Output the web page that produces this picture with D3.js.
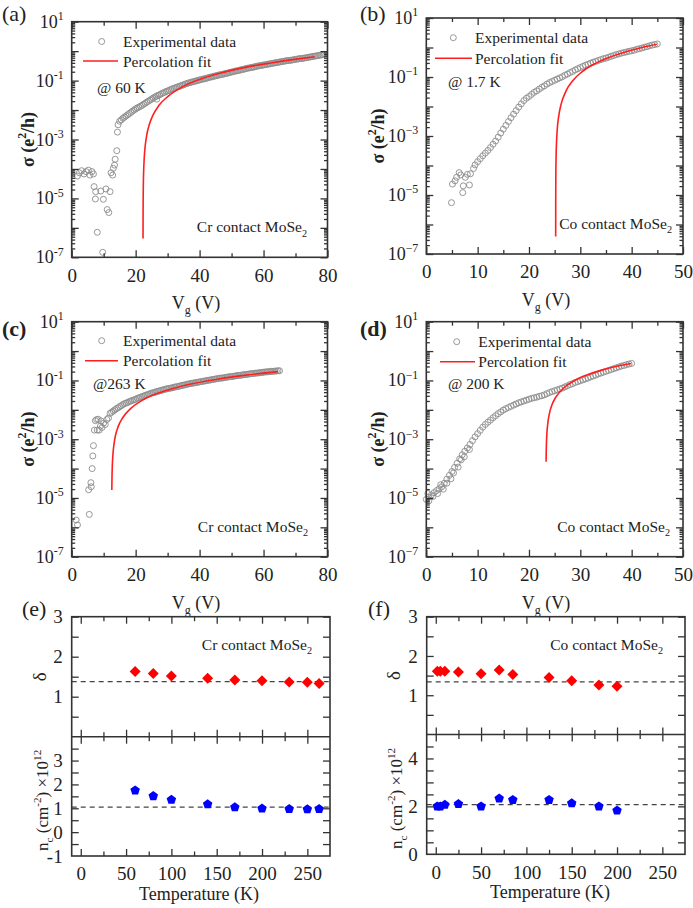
<!DOCTYPE html>
<html><head><meta charset="utf-8">
<script src="https://cdn.jsdelivr.net/npm/d3@7"></script>
<style>
body{margin:0;background:#fff}
svg{display:block;font-family:"Liberation Serif","DejaVu Serif",serif}
text{font-family:"Liberation Serif","DejaVu Serif",serif;fill:#222}
</style>
</head><body>
<svg id="fig" width="693" height="908"></svg>
<script>
// ---------------- DATA (V_g in volts, log10 of sigma in e^2/h) ----------------
const expA = [[1.8,-4.24],[2.4,-4.13],[3.1,-4.06],[3.85,-4.17],[4.5,-4.09],[5.2,-4.04],[5.7,-4.21],[6.35,-4.09],[6.8,-4.17],[7.0,-4.6],[7.5,-4.77],[7.4,-5.02],[8.0,-6.15],[9.1,-4.75],[9.9,-5.03],[9.7,-6.83],[10.7,-4.68],[11.1,-5.38],[11.6,-5.48],[12.0,-4.77],[12.3,-4.13],[12.8,-4.21],[13.0,-3.98],[13.4,-3.87],[13.6,-3.67],[14.1,-3.38],[14.3,-2.75],[26.6,-1.63],
[14.5,-2.50],[15,-2.38],[15.5,-2.33],[16,-2.28],[16.5,-2.24],[17,-2.20],[17.5,-2.16],[18,-2.12],[18.5,-2.08],[19,-2.04],[19.5,-2.00],[20,-1.96],[20.5,-1.93],[21,-1.90],[21.5,-1.87],[22,-1.84],[22.5,-1.80],[23,-1.77],[23.5,-1.73],[24,-1.70],[24.5,-1.66],[25,-1.63],[25.5,-1.59],[26,-1.56],[26.5,-1.53],[27,-1.50],[27.5,-1.48],[28,-1.45],[28.5,-1.42],[29,-1.40],[29.5,-1.37],[30,-1.35],[30.5,-1.33],[31,-1.30],[31.5,-1.28],[32,-1.26],[32.5,-1.24],[33,-1.22],[33.5,-1.20],[34,-1.18],[34.5,-1.16],[35,-1.14],[35.5,-1.12],[36,-1.10],[36.5,-1.08],[37,-1.07],[37.5,-1.05],[38,-1.04],[38.5,-1.02],[39,-1.01],[39.5,-0.99],[40,-0.98],
[40.5,-0.96],[41,-0.95],[41.5,-0.94],[42,-0.92],[42.5,-0.91],[43,-0.89],[43.5,-0.88],[44,-0.87],[44.5,-0.85],[45,-0.84],[45.5,-0.83],[46,-0.81],[46.5,-0.80],[47,-0.79],[47.5,-0.78],[48,-0.76],[48.5,-0.75],[49,-0.74],[49.5,-0.72],[50,-0.71],[50.5,-0.70],[51,-0.68],[51.5,-0.67],[52,-0.66],[52.5,-0.65],[53,-0.63],[53.5,-0.62],[54,-0.61],[54.5,-0.59],[55,-0.58],[55.5,-0.57],[56,-0.56],[56.5,-0.55],[57,-0.54],[57.5,-0.52],[58,-0.51],[58.5,-0.50],[59,-0.49],[59.5,-0.48],[60,-0.47],[60.5,-0.46],[61,-0.45],[61.5,-0.44],[62,-0.43],[62.5,-0.42],[63,-0.41],[63.5,-0.40],[64,-0.39],[64.5,-0.38],[65,-0.37],[65.5,-0.36],[66,-0.35],[66.5,-0.34],[67,-0.33],[67.5,-0.32],[68,-0.32],[68.5,-0.31],[69,-0.30],[69.5,-0.29],[70,-0.28],[70.5,-0.27],[71,-0.26],[71.5,-0.25],[72,-0.25],[72.5,-0.24],[73,-0.23],[73.5,-0.22],[74,-0.21],[74.5,-0.20],[75,-0.19],[75.5,-0.18],[76,-0.17],[76.5,-0.16],[77,-0.15],[77.5,-0.14],[78,-0.13],[78.5,-0.12],[79,-0.11]];
const fitA = [[22.308,-6.36],[22.32,-5.68],[22.35,-5.04],[22.4,-4.56],[22.5,-4.08],[22.7,-3.60],[23.0,-3.21],[23.5,-2.83],[24.3,-2.48],[25.3,-2.20],[27.3,-1.84],[30.3,-1.52],[34.3,-1.23],[40,-0.96],[46.3,-0.75],[54.3,-0.55],[62.3,-0.40],[70.3,-0.27],[76,-0.19]];

const expB = [[4.9,-5.26],[5.1,-4.63],[5.6,-4.52],[5.9,-4.40],[6.4,-4.24],[6.7,-4.32],[7.1,-4.92],[7.2,-4.69],[7.6,-4.40],[8.0,-4.30],[8.4,-4.66],[8.6,-4.28],[9.2,-4.10],
[9.5,-3.98],[10,-3.87],[10.5,-3.77],[11,-3.67],[11.5,-3.58],[12,-3.49],[12.5,-3.39],[13,-3.28],[13.5,-3.17],[14,-3.04],[14.5,-2.90],[15,-2.77],[15.5,-2.64],[16,-2.51],[16.5,-2.38],[17,-2.26],[17.5,-2.14],[18,-2.02],[18.5,-1.91],[19,-1.80],[19.5,-1.72],[20,-1.66],[20.5,-1.59],[21,-1.52],[21.5,-1.47],[22,-1.41],[22.5,-1.35],[23,-1.30],[23.5,-1.24],[24,-1.19],[24.5,-1.15],[25,-1.11],[25.5,-1.07],[26,-1.03],[26.5,-0.99],[27,-0.94],[27.5,-0.90],[28,-0.85],[28.5,-0.81],[29,-0.76],[29.5,-0.72],[30,-0.68],[30.5,-0.64],[31,-0.60],[31.5,-0.57],[32,-0.53],[32.5,-0.50],[33,-0.47],[33.5,-0.44],[34,-0.41],[34.5,-0.38],[35,-0.36],[35.5,-0.33],[36,-0.30],[36.5,-0.27],[37,-0.24],[37.5,-0.22],[38,-0.19],[38.5,-0.17],[39,-0.15],[39.5,-0.13],[40,-0.11],[40.5,-0.09],[41,-0.06],[41.5,-0.04],[42,-0.02],[42.5,0.01],[43,0.03],[43.5,0.06],[44,0.08],[44.5,0.10],[45,0.12]];
const fitB = [[25.2017,-6.41],[25.21,-5.16],[25.23,-4.40],[25.3,-3.56],[25.5,-2.80],[25.8,-2.32],[26.2,-1.96],[27.2,-1.48],[28.7,-1.09],[30.2,-0.84],[32.7,-0.56],[35.7,-0.33],[39.2,-0.13],[42.2,0.01],[44.9,0.11]];

const expC = [[1.4,-5.75],[1.8,-5.92],[5.3,-4.72],[6.1,-4.62],[5.5,-5.56],[6.0,-4.48],[6.4,-4.0],[6.6,-3.57],[6.8,-3.22],[7.1,-2.69],[7.4,-2.37],[7.8,-2.33],[8.0,-2.69],[8.3,-2.32],[8.6,-2.69],[9.0,-2.55],[9.2,-2.38],[9.5,-2.6],[10.0,-2.45],[10.5,-2.5],[11.0,-2.33],[11.5,-2.28],
[12,-2.12],[12.5,-2.08],[13,-2.04],[13.5,-2.00],[14,-1.96],[14.5,-1.93],[15,-1.89],[15.5,-1.86],[16,-1.82],[16.5,-1.79],[17,-1.77],[17.5,-1.75],[18,-1.72],[18.5,-1.70],[19,-1.68],[19.5,-1.66],[20,-1.64],[20.5,-1.61],[21,-1.59],[21.5,-1.57],[22,-1.55],[22.5,-1.53],[23,-1.51],[23.5,-1.49],[24,-1.47],[24.5,-1.45],[25,-1.43],[25.5,-1.42],[26,-1.40],[26.5,-1.38],[27,-1.37],[27.5,-1.35],[28,-1.34],[28.5,-1.32],[29,-1.31],[29.5,-1.29],[30,-1.28],[30.5,-1.27],[31,-1.26],[31.5,-1.25],[32,-1.23],[32.5,-1.22],[33,-1.21],[33.5,-1.20],[34,-1.18],[34.5,-1.17],[35,-1.16],[35.5,-1.15],[36,-1.13],[36.5,-1.12],[37,-1.11],[37.5,-1.10],[38,-1.09],[38.5,-1.08],[39,-1.07],[39.5,-1.06],[40,-1.05],[40.5,-1.04],[41,-1.03],[41.5,-1.02],[42,-1.01],[42.5,-1.00],[43,-0.99],[43.5,-0.98],[44,-0.97],[44.5,-0.96],[45,-0.95],[45.5,-0.94],[46,-0.93],[46.5,-0.92],[47,-0.92],[47.5,-0.91],[48,-0.90],[48.5,-0.89],[49,-0.88],[49.5,-0.87],[50,-0.87],[50.5,-0.86],[51,-0.85],[51.5,-0.84],[52,-0.83],[52.5,-0.83],[53,-0.82],[53.5,-0.81],[54,-0.80],[54.5,-0.80],[55,-0.79],[55.5,-0.78],[56,-0.77],[56.5,-0.77],[57,-0.76],[57.5,-0.75],[58,-0.75],[58.5,-0.74],[59,-0.73],[59.5,-0.73],[60,-0.72],[60.5,-0.71],[61,-0.71],[61.5,-0.70],[62,-0.70],[62.5,-0.69],[63,-0.69],[63.5,-0.68],[64,-0.68],[64.5,-0.67],[65,-0.67]];
const fitC = [[12.548,-4.73],[12.57,-4.52],[12.6,-4.31],[12.7,-3.91],[12.9,-3.51],[13.2,-3.19],[13.7,-2.87],[14.5,-2.58],[16,-2.26],[18.5,-1.95],[22.5,-1.65],[28.5,-1.38],[36.5,-1.14],[45.5,-0.96],[54.5,-0.82],[64.5,-0.70]];

const expD = [[0.3,-4.85],[0.5,-5.1],[1.3,-4.95],[2.2,-4.85],[2.8,-4.55],[3.3,-4.7],[4.0,-4.5],[4.8,-4.35],[5.3,-4.15],[6.2,-3.95],[6.8,-3.7],[7.4,-3.6],[8.4,-3.35],
[0,-5.05],[0.5,-4.97],[1,-4.90],[1.5,-4.82],[2,-4.75],[2.5,-4.69],[3,-4.62],[3.5,-4.50],[4,-4.36],[4.5,-4.23],[5,-4.10],[5.5,-3.96],[6,-3.82],[6.5,-3.67],[7,-3.53],[7.5,-3.41],[8,-3.30],[8.5,-3.18],[9,-3.05],[9.5,-2.92],[10,-2.81],[10.5,-2.70],[11,-2.59],[11.5,-2.50],[12,-2.42],[12.5,-2.35],[13,-2.27],[13.5,-2.20],[14,-2.13],[14.5,-2.07],[15,-2.01],[15.5,-1.96],[16,-1.92],[16.5,-1.88],[17,-1.84],[17.5,-1.80],[18,-1.76],[18.5,-1.73],[19,-1.70],[19.5,-1.67],[20,-1.64],[20.5,-1.61],[21,-1.59],[21.5,-1.57],[22,-1.54],[22.5,-1.52],[23,-1.49],[23.5,-1.45],[24,-1.41],[24.5,-1.38],[25,-1.35],[25.5,-1.32],[26,-1.29],[26.5,-1.26],[27,-1.22],[27.5,-1.18],[28,-1.14],[28.5,-1.11],[29,-1.07],[29.5,-1.04],[30,-1.01],[30.5,-0.98],[31,-0.95],[31.5,-0.92],[32,-0.88],[32.5,-0.85],[33,-0.82],[33.5,-0.78],[34,-0.75],[34.5,-0.72],[35,-0.69],[35.5,-0.66],[36,-0.63],[36.5,-0.60],[37,-0.57],[37.5,-0.54],[38,-0.51],[38.5,-0.49],[39,-0.46],[39.5,-0.44],[40,-0.42]];
const fitD = [[23.331,-3.77],[23.35,-3.52],[23.4,-3.15],[23.5,-2.78],[23.7,-2.41],[24.0,-2.11],[24.5,-1.82],[25.3,-1.55],[26.8,-1.25],[28.8,-1.01],[31.3,-0.81],[34.3,-0.64],[37.3,-0.51],[39.9,-0.42]];

// Temperature dependence
const crT = [60, 80, 100, 140, 170, 200, 230, 250, 263];
const crDelta = [1.63, 1.58, 1.52, 1.46, 1.42, 1.40, 1.37, 1.36, 1.33];
const crNc = [1.75, 1.51, 1.36, 1.17, 1.04, 0.99, 0.97, 0.96, 0.97];
const crDeltaRef = 1.375, crNcRef = 1.05;
const coT = [1.7, 5, 10, 25, 50, 70, 85, 125, 150, 180, 200];
const coDelta = [1.61, 1.61, 1.61, 1.59, 1.55, 1.64, 1.53, 1.45, 1.37, 1.26, 1.23];
const coNc = [2.0, 2.0, 2.07, 2.1, 2.0, 2.33, 2.27, 2.27, 2.13, 2.0, 1.83];
const coDeltaRef = 1.34, coNcRef = 2.07;

const logLabelExps = [1, -1, -3, -5, -7];

// ---------------- DRAWING ----------------
const svg = d3.select("#fig");
const FONT = '"Liberation Serif","DejaVu Serif",serif';
const FRAME = "#333";
const RED = "#ff1f1f";
const GRAY = "#8c8c8c";

function rich(g, x, y, parts, size, anchor) {
  const t = g.append("text").attr("x", x).attr("y", y).attr("font-size", size)
    .attr("font-family", FONT).attr("text-anchor", anchor || "start");
  let shift = 0;
  parts.forEach(p => {
    const [s, kind] = typeof p === "string" ? [p, null] : p;
    const target = kind === "sup" ? -size * 0.42 : kind === "sub" ? size * 0.28 : 0;
    t.append("tspan").attr("dy", target - shift).attr("font-size", kind ? size * 0.66 : size).text(s);
    shift = target;
  });
  return t;
}

function axis(g, ax, tx, ty, fs) {
  const a = g.append("g").attr("transform", `translate(${tx},${ty})`).call(ax);
  a.select(".domain").remove();
  a.attr("font-family", FONT).attr("font-size", fs || 19).attr("color", FRAME);
  a.selectAll("line").attr("stroke-width", 1.3);
  a.selectAll("text").attr("fill", "#222");
  return a;
}

function vgPanel(o) {
  const g = svg.append("g");
  const x = d3.scaleLinear().domain([0, o.xmax]).range([o.x0, o.x1]);
  const y = d3.scaleLog().domain([1e-7, 10]).range([o.y1, o.y0]);
  const dec = d3.range(-7, 2).map(e => Math.pow(10, e));
  const minor = [];
  d3.range(-7, 1).forEach(e => d3.range(2, 10).forEach(k => minor.push(k * Math.pow(10, e))));
  const xMaj = d3.range(0, o.xmax + 0.001, o.xstep);
  const xMin = d3.range(o.xstep / 2, o.xmax, o.xstep);

  // data
  g.append("g").selectAll("circle").data(o.exp).join("circle")
    .attr("cx", d => x(d[0])).attr("cy", d => y(Math.pow(10, d[1]))).attr("r", 3)
    .attr("fill", "none").attr("stroke", GRAY).attr("stroke-width", 0.9);
  const line = d3.line().x(d => x(d[0])).y(d => y(Math.pow(10, d[1]))).curve(d3.curveMonotoneX);
  g.append("path").attr("d", line(o.fit)).attr("fill", "none").attr("stroke", RED).attr("stroke-width", 1.6);

  // axes
  axis(g, d3.axisLeft(y).tickValues(dec).tickSize(-7).tickFormat(""), o.x0, 0);
  axis(g, d3.axisLeft(y).tickValues(minor).tickSize(-3.5).tickFormat(""), o.x0, 0);
  axis(g, d3.axisRight(y).tickValues(dec).tickSize(-7).tickFormat(""), o.x1, 0);
  axis(g, d3.axisRight(y).tickValues(minor).tickSize(-3.5).tickFormat(""), o.x1, 0);
  axis(g, d3.axisBottom(x).tickValues(xMaj).tickSize(-7).tickPadding(11).tickFormat(d3.format("d")), 0, o.y1);
  axis(g, d3.axisBottom(x).tickValues(xMin).tickSize(-4).tickFormat(""), 0, o.y1);
  axis(g, d3.axisTop(x).tickValues(xMaj).tickSize(-7).tickFormat(""), 0, o.y0);
  axis(g, d3.axisTop(x).tickValues(xMin).tickSize(-4).tickFormat(""), 0, o.y0);
  g.append("rect").attr("x", o.x0).attr("y", o.y0).attr("width", o.x1 - o.x0).attr("height", o.y1 - o.y0)
    .attr("fill", "none").attr("stroke", FRAME).attr("stroke-width", 1.6);

  // log tick labels
  logLabelExps.forEach(e => {
    const s = e < 0 ? o.minus + Math.abs(e) : String(e);
    rich(g, o.x0 - 8, y(Math.pow(10, e)) + 6, ["10", [s, "sup"]], 18, "end");
  });

  // axis titles
  rich(g, o.xt, o.y1 + 52, ["V", ["g", "sub"], " (V)"], 18, "middle");
  const yt = g.append("g").attr("transform", `translate(${o.yx},${(o.y0 + o.y1) / 2}) rotate(-90)`);
  rich(yt, 0, 0, ["σ (e", ["2", "sup"], "/h)"], 18, "middle").attr("font-weight", "bold");

  // panel label
  g.append("text").attr("x", o.lx).attr("y", o.ly).attr("font-size", 22).attr("font-family", FONT)
    .attr("font-weight", o.bold ? "bold" : "normal").text(o.label);

  // legend
  const L = o.leg;
  g.append("circle").attr("cx", L.cx).attr("cy", L.cy).attr("r", 3).attr("fill", "none")
    .attr("stroke", GRAY).attr("stroke-width", 0.9);
  g.append("text").attr("x", L.tx).attr("y", L.cy + 5.5).attr("font-size", 15.5).attr("font-family", FONT)
    .text("Experimental data");
  g.append("line").attr("x1", L.lx0).attr("x2", L.lx1).attr("y1", L.ly).attr("y2", L.ly)
    .attr("stroke", RED).attr("stroke-width", 1.6);
  g.append("text").attr("x", L.tx).attr("y", L.ly + 5.5).attr("font-size", 15.5).attr("font-family", FONT)
    .text("Percolation fit");
  g.append("text").attr("x", L.ax).attr("y", L.ay).attr("font-size", 15.5).attr("font-family", FONT).text(o.temp);

  // annotation
  rich(g, o.annX, o.y1 - 25, [o.metal + " contact MoSe", ["2", "sub"]], 15.5, "end");
}

vgPanel({label: "(a)", lx: 2, ly: 21, bold: false, x0: 71.7, x1: 327.5, y0: 21.7, y1: 257.3, xmax: 80, xstep: 20,
  exp: expA, fit: fitA, minus: "-", xt: 196, yx: 34, temp: "@ 60 K", metal: "Cr", annX: 307,
  leg: {cx: 101.7, cy: 41.5, tx: 123, lx0: 83, lx1: 118, ly: 61, ax: 97, ay: 93}});
vgPanel({label: "(b)", lx: 360, ly: 21, bold: false, x0: 426.3, x1: 683, y0: 18, y1: 254, xmax: 50, xstep: 10,
  exp: expB, fit: fitB, minus: "−", xt: 546, yx: 384, temp: "@ 1.7 K", metal: "Co", annX: 672,
  leg: {cx: 453.3, cy: 37.7, tx: 475, lx0: 435, lx1: 472, ly: 58.3, ax: 448, ay: 87}});
vgPanel({label: "(c)", lx: 2, ly: 336, bold: true, x0: 71.7, x1: 327.5, y0: 321.7, y1: 556.7, xmax: 80, xstep: 20,
  exp: expC, fit: fitC, minus: "-", xt: 196, yx: 34, temp: "@263 K", metal: "Cr", annX: 308,
  leg: {cx: 101.7, cy: 340.7, tx: 123, lx0: 85, lx1: 118, ly: 360.7, ax: 93, ay: 389}});
vgPanel({label: "(d)", lx: 360, ly: 336, bold: true, x0: 426.3, x1: 683, y0: 321.7, y1: 556.7, xmax: 50, xstep: 10,
  exp: expD, fit: fitD, minus: "−", xt: 546, yx: 384, temp: "@ 200 K", metal: "Co", annX: 670,
  leg: {cx: 456.7, cy: 341.7, tx: 478.3, lx0: 440, lx1: 475, ly: 361.7, ax: 448, ay: 389}});

function diamond(cx, cy, r) {
  return `M${cx},${cy - r}L${cx + r},${cy}L${cx},${cy + r}L${cx - r},${cy}Z`;
}
function pentagon(cx, cy, r) {
  return d3.range(5).map(i => {
    const a = -Math.PI / 2 + i * 2 * Math.PI / 5;
    return (i ? "L" : "M") + (cx + r * Math.cos(a)).toFixed(2) + "," + (cy + r * Math.sin(a)).toFixed(2);
  }).join("") + "Z";
}
const hyph = d => (d < 0 ? "-" + Math.abs(d) : String(d));

function tPanel(o) {
  const g = svg.append("g");
  const x = d3.scaleLinear().domain([-10, 275]).range([o.x0, o.x1]);
  const yD = d3.scaleLinear().domain([0, 3]).range([o.ym, o.y0]);
  const yN = d3.scaleLinear().domain(o.ndom).range([o.y1, o.ym]);
  const xMaj = d3.range(0, 251, 50), xMin = d3.range(25, 251, 50);
  const dTicks = d3.range(0.5, 3.01, 0.5);
  const nTicks = d3.range(o.ndom[0] + 0.5, o.ndom[1], 0.5);

  // dashed reference lines
  g.append("line").attr("x1", o.x0).attr("x2", o.x1).attr("y1", yD(o.dRef)).attr("y2", yD(o.dRef))
    .attr("stroke", "#444").attr("stroke-width", 1.2).attr("stroke-dasharray", "5,4");
  g.append("line").attr("x1", o.x0).attr("x2", o.x1).attr("y1", yN(o.nRef)).attr("y2", yN(o.nRef))
    .attr("stroke", "#444").attr("stroke-width", 1.2).attr("stroke-dasharray", "5,4");

  // markers
  g.append("g").selectAll("path").data(o.T).join("path")
    .attr("d", (t, i) => diamond(x(t), yD(o.delta[i]), 5.5)).attr("fill", "#ff0000");
  g.append("g").selectAll("path").data(o.T).join("path")
    .attr("d", (t, i) => pentagon(x(t), yN(o.nc[i]), 5)).attr("fill", "#0000ff");

  // axes
  axis(g, d3.axisTop(x).tickValues(xMaj).tickSize(-7).tickFormat(""), 0, o.y0);
  axis(g, d3.axisTop(x).tickValues(xMin).tickSize(-4.5).tickFormat(""), 0, o.y0);
  axis(g, d3.axisBottom(x).tickValues(xMaj).tickSize(-7).tickFormat(""), 0, o.ym);
  axis(g, d3.axisBottom(x).tickValues(xMin).tickSize(-4.5).tickFormat(""), 0, o.ym);
  axis(g, d3.axisTop(x).tickValues(xMaj).tickSize(-7).tickFormat(""), 0, o.ym);
  axis(g, d3.axisTop(x).tickValues(xMin).tickSize(-4.5).tickFormat(""), 0, o.ym);
  axis(g, d3.axisBottom(x).tickValues(xMaj).tickSize(-7).tickPadding(11).tickFormat(d3.format("d")), 0, o.y1);
  axis(g, d3.axisBottom(x).tickValues(xMin).tickSize(-4.5).tickFormat(""), 0, o.y1);
  axis(g, d3.axisLeft(yD).tickValues(dTicks).tickSize(-7).tickPadding(9)
    .tickFormat(d => Number.isInteger(d) ? hyph(d) : ""), o.x0, 0);
  axis(g, d3.axisRight(yD).tickValues(dTicks).tickSize(-7).tickFormat(""), o.x1, 0);
  axis(g, d3.axisLeft(yN).tickValues(nTicks).tickSize(-7).tickPadding(9)
    .tickFormat(d => o.nLabels.includes(d) ? hyph(d) : ""), o.x0, 0);
  axis(g, d3.axisLeft(yN).tickValues([o.ndom[0]]).tickSize(0).tickPadding(9)
    .tickFormat(d => o.nLabels.includes(d) ? hyph(d) : ""), o.x0, 0);
  axis(g, d3.axisRight(yN).tickValues(nTicks).tickSize(-7).tickFormat(""), o.x1, 0);

  g.append("rect").attr("x", o.x0).attr("y", o.y0).attr("width", o.x1 - o.x0).attr("height", o.y1 - o.y0)
    .attr("fill", "none").attr("stroke", FRAME).attr("stroke-width", 1.6);
  g.append("line").attr("x1", o.x0).attr("x2", o.x1).attr("y1", o.ym).attr("y2", o.ym)
    .attr("stroke", FRAME).attr("stroke-width", 1.6);

  // titles
  g.append("text").attr("x", o.xt).attr("y", o.y1 + 44).attr("font-size", 18).attr("font-family", FONT)
    .attr("text-anchor", "middle").text("Temperature (K)");
  const d1 = g.append("g").attr("transform", `translate(${o.yx},${(o.y0 + o.ym) / 2}) rotate(-90)`);
  d1.append("text").attr("font-size", 19).attr("font-family", FONT).attr("text-anchor", "middle").text("δ");
  const d2 = g.append("g").attr("transform", `translate(${o.yx + 2},${(o.ym + o.y1) / 2 + 4}) rotate(-90)`);
  rich(d2, 0, 0, ["n", ["c", "sub"], " (cm", ["-2", "sup"], ") ×10", ["12", "sup"]], 17, "middle");

  g.append("text").attr("x", o.lx).attr("y", o.y0 - 0.5).attr("font-size", 22).attr("font-family", FONT).text(o.label);
  rich(g, o.annX, o.y0 + 33, [o.metal + " contact MoSe", ["2", "sub"]], 15.5, "end");
}

tPanel({label: "(e)", lx: 22, x0: 71.7, x1: 330, y0: 616.7, ym: 736.7, y1: 856, ndom: [-1, 4], nLabels: [-1, 0, 1, 2, 3],
  T: crT, delta: crDelta, nc: crNc, dRef: crDeltaRef, nRef: crNcRef, metal: "Cr", xt: 199, yx: 46, annX: 312});
tPanel({label: "(f)", lx: 368, x0: 426.7, x1: 685, y0: 616.7, ym: 734.5, y1: 854.3, ndom: [0, 5], nLabels: [0, 2, 4],
  T: coT, delta: coDelta, nc: coNc, dRef: coDeltaRef, nRef: coNcRef, metal: "Co", xt: 550, yx: 400, annX: 663});
</script>
</body></html>
